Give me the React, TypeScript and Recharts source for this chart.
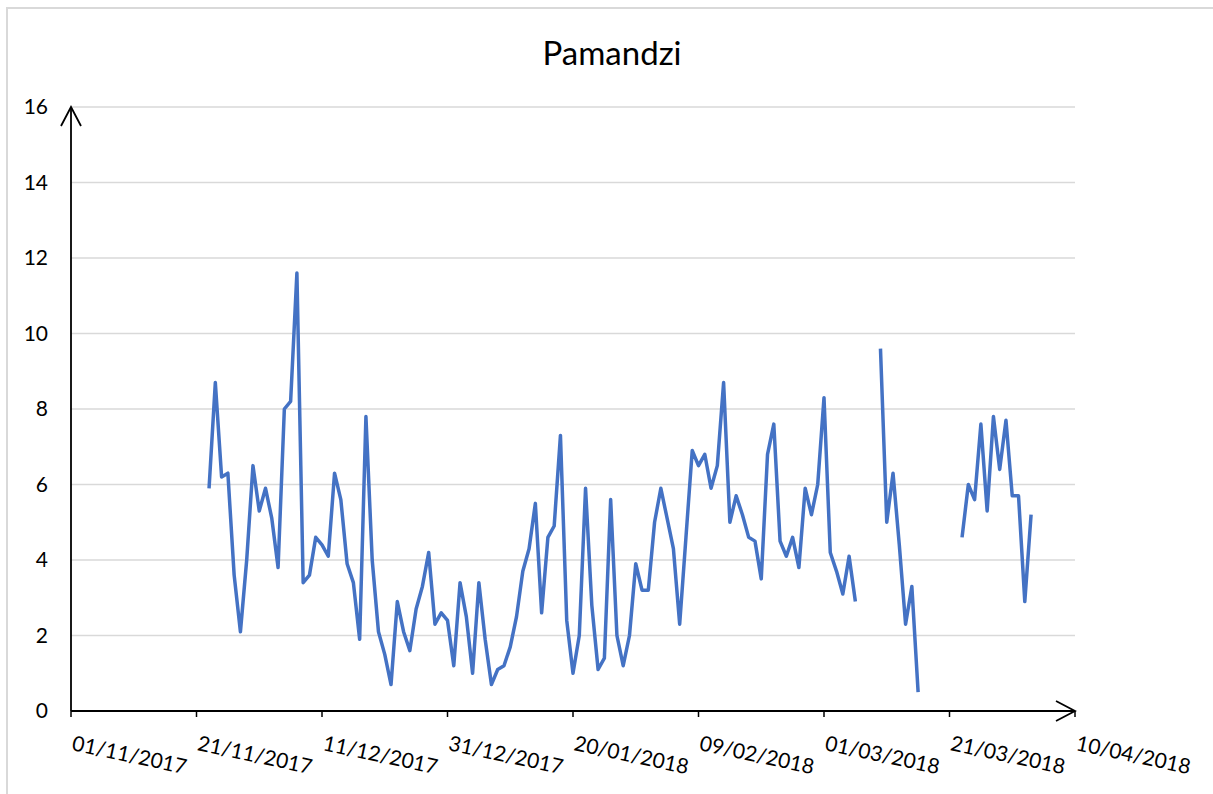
import { CartesianGrid, Line, LineChart, XAxis, YAxis } from "recharts";

// Daily readings at Pamandzi, first value on 23/11/2017, null = no reading.
const START_DATE = "23/11/2017";
const pamandzi: (number | null)[] = [
  5.9, 8.7, 6.2, 6.3, 3.6, 2.1, 4.0, 6.5, 5.3, 5.9, 5.1, 3.8, 8.0, 8.2, 11.6,
  3.4, 3.6, 4.6, 4.4, 4.1, 6.3, 5.6, 3.9, 3.4, 1.9, 7.8, 4.0, 2.1, 1.5, 0.7,
  2.9, 2.1, 1.6, 2.7, 3.3, 4.2, 2.3, 2.6, 2.4, 1.2, 3.4, 2.5, 1.0, 3.4, 1.9,
  0.7, 1.1, 1.2, 1.7, 2.5, 3.7, 4.3, 5.5, 2.6, 4.6, 4.9, 7.3, 2.4, 1.0, 2.0,
  5.9, 2.8, 1.1, 1.4, 5.6, 2.0, 1.2, 2.0, 3.9, 3.2, 3.2, 5.0, 5.9, 5.1, 4.3,
  2.3, 4.6, 6.9, 6.5, 6.8, 5.9, 6.5, 8.7, 5.0, 5.7, 5.2, 4.6, 4.5, 3.5, 6.8,
  7.6, 4.5, 4.1, 4.6, 3.8, 5.9, 5.2, 6.0, 8.3, 4.2, 3.7, 3.1, 4.1, 2.9,
  null, null, null,
  9.6, 5.0, 6.3, 4.4, 2.3, 3.3, 0.5,
  null, null, null, null, null, null,
  4.6, 6.0, 5.6, 7.6, 5.3, 7.8, 6.4, 7.7, 5.7, 5.7, 2.9, 5.2,
];

const xTickLabels = [
  "01/11/2017", "21/11/2017", "11/12/2017", "31/12/2017", "20/01/2018",
  "09/02/2018", "01/03/2018", "21/03/2018", "10/04/2018",
];
const yTicks = [0, 2, 4, 6, 8, 10, 12, 14, 16];

const DAY = 86400000;
const FONT = "Lato, 'Open Sans', sans-serif";

function parseDate(s: string): number {
  const [d, m, y] = s.split("/").map(Number);
  return Date.UTC(y, m - 1, d);
}

const xTickValues = xTickLabels.map(parseDate);
const start = parseDate(START_DATE);
const chartData = pamandzi.map((v, i) => ({ t: start + i * DAY, value: v }));

function DateTick(props: any) {
  const { x, y, payload } = props;
  const idx = xTickValues.indexOf(payload.value);
  const tx = x;
  const ty = y + 31;
  return (
    <text
      x={tx}
      y={ty}
      transform={`rotate(12, ${tx}, ${ty})`}
      textAnchor="start"
      fontSize={21}
      fontFamily={FONT}
      fill="#000"
    >
      {idx >= 0 ? xTickLabels[idx] : ""}
    </text>
  );
}

export default function App() {
  return (
    <div style={{ position: "relative", width: 1213, height: 794, overflow: "hidden", background: "#fff" }}>
      <style>{`body{margin:0;overflow:hidden}`}</style>
      <div
        style={{
          position: "absolute",
          left: 6,
          top: 7,
          width: 1215,
          height: 800,
          border: "2px solid #d9d9d9",
          boxSizing: "border-box",
        }}
      />
      <div style={{ position: "absolute", left: 0, top: 0 }}>
        <LineChart
          width={1213}
          height={794}
          data={chartData}
          margin={{ top: 107, right: 138, left: 11, bottom: 0 }}
        >
          <defs>
            <marker
              id="axis-arrow"
              viewBox="0 0 22 22"
              refX={20}
              refY={11}
              markerWidth={22}
              markerHeight={22}
              markerUnits="userSpaceOnUse"
              orient="auto-start-reverse"
            >
              <path d="M1,1 L20,11 L1,21" fill="none" stroke="#000" strokeWidth={1.8} />
            </marker>
          </defs>
          <CartesianGrid vertical={false} stroke="#d9d9d9" strokeWidth={1.5} />
          <XAxis
            dataKey="t"
            type="number"
            scale="linear"
            domain={[xTickValues[0], xTickValues[xTickValues.length - 1]]}
            ticks={xTickValues}
            interval={0}
            height={83}
            tickSize={6}
            tickLine={{ stroke: "#000", strokeWidth: 1.5 }}
            axisLine={{ stroke: "#000", strokeWidth: 1.8, markerEnd: "url(#axis-arrow)" }}
            tick={<DateTick />}
          />
          <YAxis
            type="number"
            domain={[0, 16]}
            ticks={yTicks}
            interval={0}
            width={60}
            tickSize={0}
            tickMargin={23}
            tickLine={false}
            axisLine={{ stroke: "#000", strokeWidth: 1.8, markerStart: "url(#axis-arrow)" }}
            tick={{ fill: "#000", fontSize: 21, fontFamily: FONT }}
          />
          <Line
            type="linear"
            dataKey="value"
            stroke="#4472C4"
            strokeWidth={3.5}
            strokeLinejoin="round"
            dot={false}
            activeDot={false}
            connectNulls={false}
            isAnimationActive={false}
          />
        </LineChart>
      </div>
      <svg
        width={1213}
        height={794}
        style={{ position: "absolute", left: 0, top: 0, pointerEvents: "none" }}
      >
        <text x={612} y={65} textAnchor="middle" fontSize={33} fontFamily={FONT} fill="#000">
          Pamandzi
        </text>
      </svg>
    </div>
  );
}
